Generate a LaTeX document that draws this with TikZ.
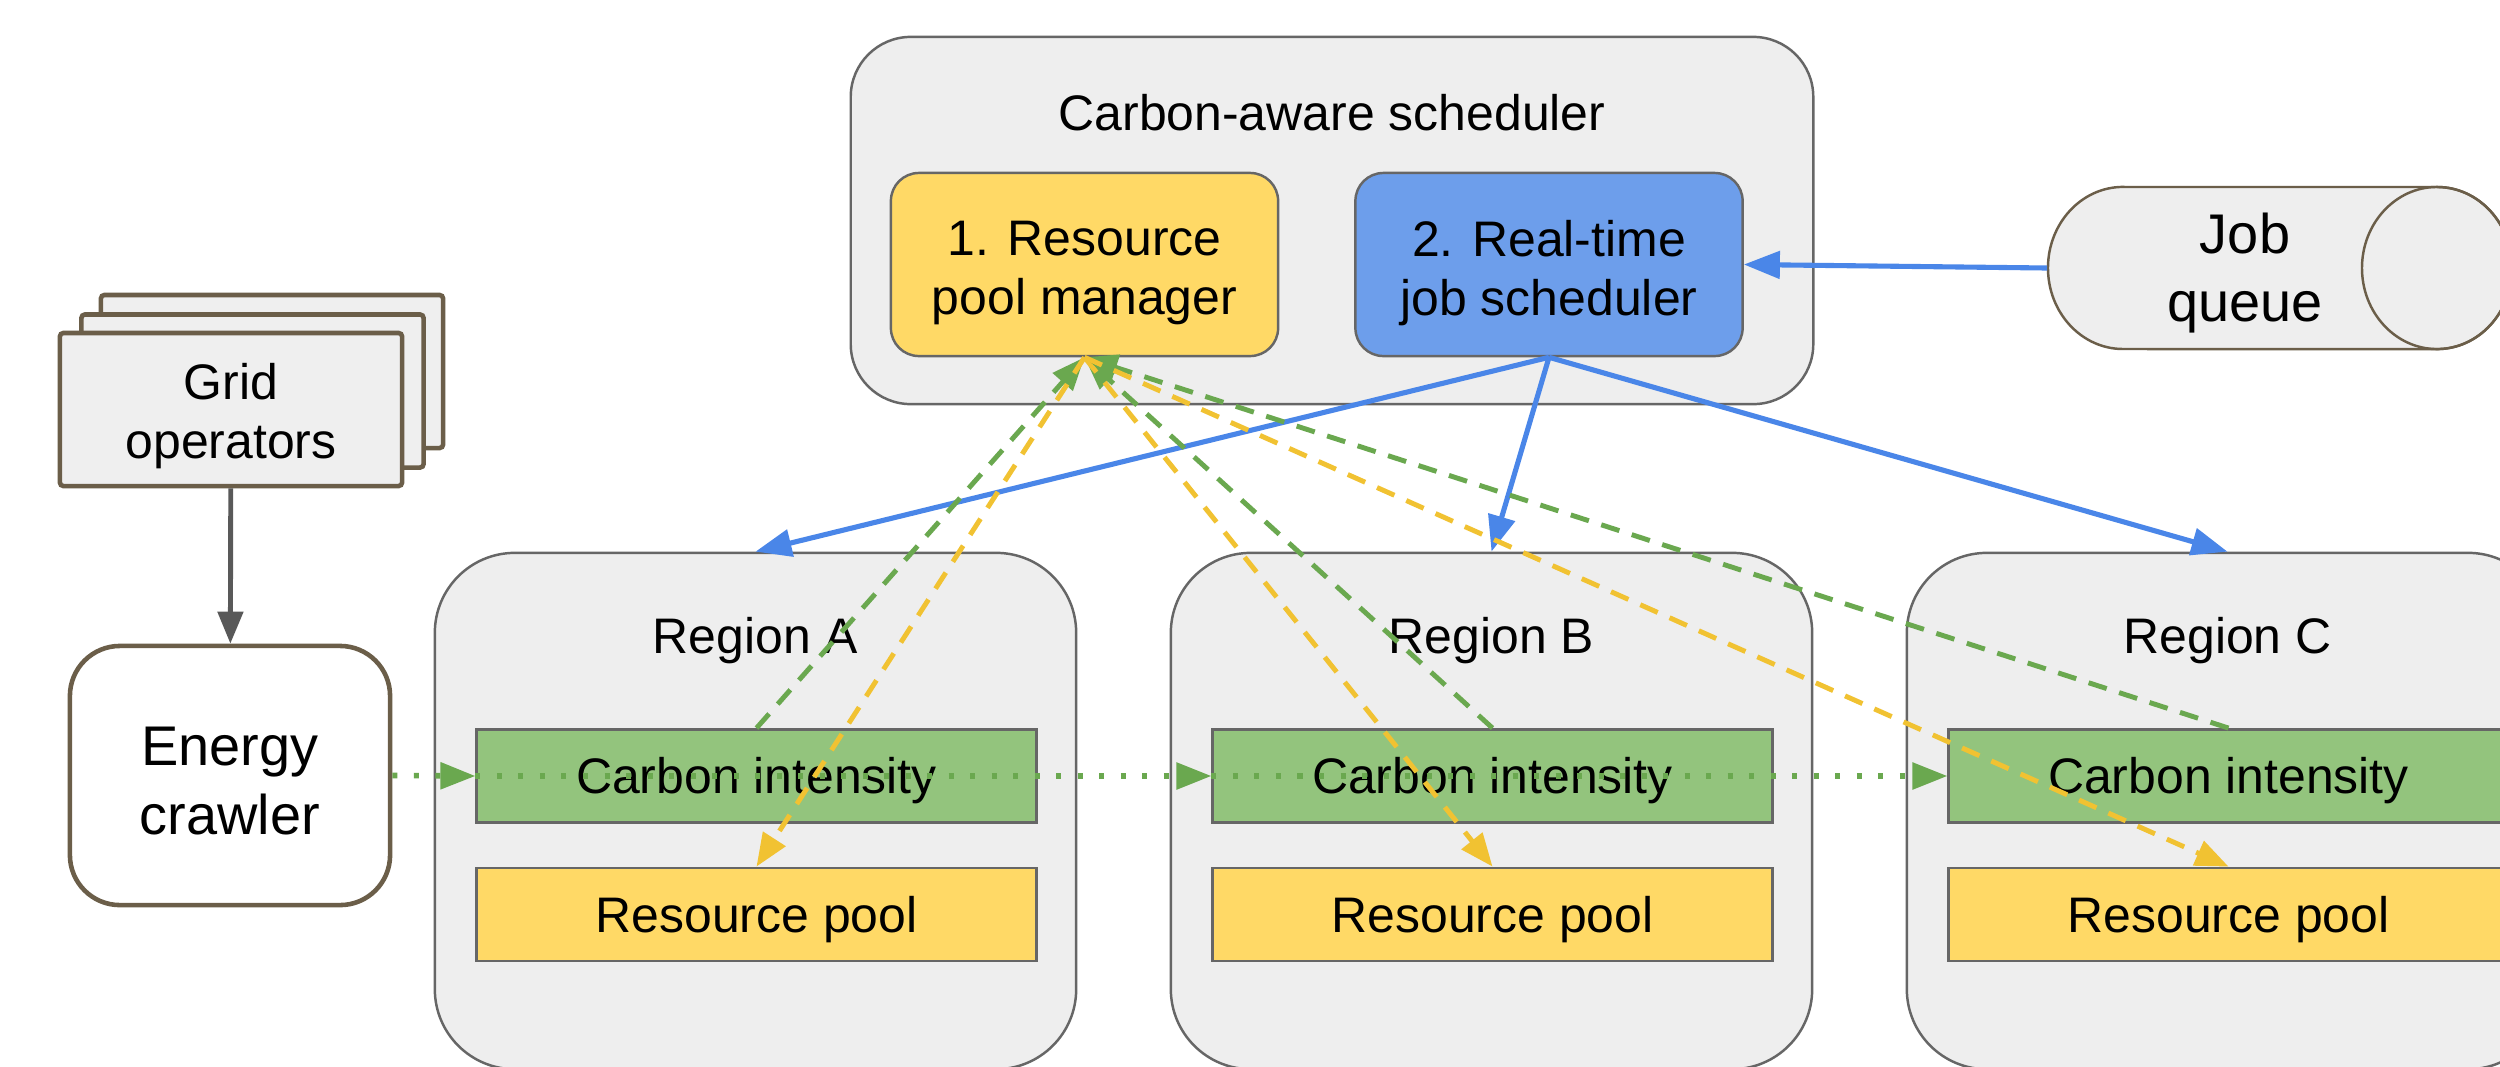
\documentclass[tikz,border=0pt]{standalone}
\usepackage{fontspec}
\setmainfont{Liberation Sans}
\usetikzlibrary{arrows.meta}

\definecolor{panelgray}{HTML}{EEEEEE}
\definecolor{sheetgray}{HTML}{EFEFEF}
\definecolor{edgegray}{HTML}{666666}
\definecolor{brownline}{HTML}{6B5E49}
\definecolor{ciFill}{HTML}{93C47D}
\definecolor{poolFill}{HTML}{FFD966}
\definecolor{jsFill}{HTML}{6D9EEB}
\definecolor{lineblue}{HTML}{4A86E8}
\definecolor{linegreen}{HTML}{6AA84F}
\definecolor{lineyellow}{HTML}{F1C232}
\definecolor{arrowgray}{HTML}{595959}

\newcommand\fsmain{\fontsize{14.2}{16.7}\selectfont}
\newcommand\fsbig{\fontsize{15.9}{19.5}\selectfont}

\tikzset{
  panel/.style={draw=edgegray, line width=0.7pt, fill=panelgray, inner sep=0pt},
  regionbox/.style={panel, rounded corners=0.8cm, minimum width=6.41cm, minimum height=5.16cm},
  bar/.style={draw=edgegray, line width=0.8pt, inner sep=0pt, minimum width=5.59cm,
    minimum height=0.93cm, font=\fsmain, text height=10.2pt, text depth=0pt},
  module/.style={draw=edgegray, line width=0.7pt, rounded corners=0.28cm, inner sep=0pt,
    minimum width=3.87cm, minimum height=1.83cm},
  boxtext/.style={align=center, inner sep=0pt, font=\fsmain},
  bigtext/.style={align=center, inner sep=0pt, font=\fsbig},
  srcbox/.style={draw=brownline, line width=1.3pt, fill=sheetgray, inner sep=0pt,
    minimum width=3.42cm, minimum height=1.53cm, rounded corners=1pt},
  label/.style={anchor=base, inner sep=0pt, font=\fsmain},
  blueflow/.style={draw=lineblue, line width=1.45pt, -{Triangle[length=0.36cm,width=0.27cm]}},
  greenflow/.style={draw=linegreen, line width=1.4pt, dash pattern=on 0.19cm off 0.13cm,
    -{Triangle[length=0.33cm,width=0.26cm]}},
  yellowflow/.style={draw=lineyellow, line width=1.4pt, dash pattern=on 0.19cm off 0.13cm,
    -{Triangle[length=0.33cm,width=0.26cm]}},
  feed/.style={draw=linegreen, line width=1.6pt, dash pattern=on 0.05cm off 0.165cm,
    -{Triangle[length=0.35cm,width=0.26cm]}},
  grayflow/.style={draw=arrowgray, line width=1.4pt, -{Triangle[length=0.32cm,width=0.25cm]}}
}

\begin{document}
\begin{tikzpicture}[x=0.01cm, y=-0.01cm]
  \clip (0,0) rectangle (2500,1066);
  \fill[white] (0,0) rectangle (2500,1066);

  % Carbon-aware scheduler with its two modules
  \node[panel, rounded corners=0.6cm, minimum width=9.62cm, minimum height=3.67cm]
    (sched) at (1332,220.5) {};
  \node[label] (schedtitle) at (1332,130) {Carbon-aware scheduler};
  \node[module, fill=poolFill] (mgr) at (1084.5,264.5) {};
  \node[boxtext] (mgrtext) at (1084.5,273) {1. Resource\\pool manager};
  \node[module, fill=jsFill] (js) at (1549,264.5) {};
  \node[boxtext] (jstext) at (1549,273) {2. Real-time\\job scheduler};

  % Job queue drawn as a horizontal cylinder
  \node[inner sep=0pt, minimum width=3.94cm, minimum height=1.62cm] (jq) at (2245,268) {};
  \path[fill=panelgray, draw=brownline, line width=0.7pt]
    (2123,187) -- (2437,187)
    arc[start angle=90, end angle=-90, x radius=0.75cm, y radius=0.81cm]
    -- (2123,349)
    arc[start angle=-90, end angle=-270, x radius=0.75cm, y radius=0.81cm] -- cycle;
  \draw[brownline, line width=0.7pt] (2437,268) ellipse [x radius=0.75cm, y radius=0.81cm];
  \node[bigtext] (jqtext) at (2245,273) {Job\\queue};

  % Grid operators (stacked sheets) and the energy crawler
  \node[srcbox] (grid3) at (272,371.5) {};
  \node[srcbox] (grid2) at (252.5,391) {};
  \node[srcbox] (grid) at (231,409.5) {};
  \node[boxtext] (gridtext) at (231,416) {Grid\\operators};
  \node[draw=brownline, line width=1.3pt, fill=white, rounded corners=0.5cm, inner sep=0pt,
    minimum width=3.2cm, minimum height=2.59cm] (crawler) at (230,775.5) {};
  \node[bigtext] (crawlertext) at (230,781) {Energy\\crawler};

  % Regions
  \foreach \r/\cx/\name in {A/755.5/Region A, B/1491.5/Region B, C/2227.5/Region C}{
    \node[regionbox] (r\r) at (\cx,811) {};
    \node[label] (lab\r) at (\cx,653) {\name};
    \node[bar, fill=ciFill] (ci\r) at (\cx+1,776) {Carbon intensity};
    \node[bar, fill=poolFill] (rp\r) at (\cx+1,914.5) {Resource pool};
  }

  % Connectors
  \draw[grayflow] (grid) -- (crawler);
  \draw[blueflow] (jq.west) -- (js.east);
  \foreach \r in {A,B,C}{
    \draw[blueflow] (js.south) -- (r\r.north);
  }
  \foreach \r in {A,B,C}{
    \draw[greenflow] (ci\r.north) -- (mgr.south);
    \draw[yellowflow] (mgr.south) -- (rp\r.north);
  }
  \draw[feed] (crawler.east) -- (ciA.west);
  \draw[feed] (ciA.west) -- (ciB.west);
  \draw[feed] (ciB.west) -- (ciC.west);
\end{tikzpicture}
\end{document}
